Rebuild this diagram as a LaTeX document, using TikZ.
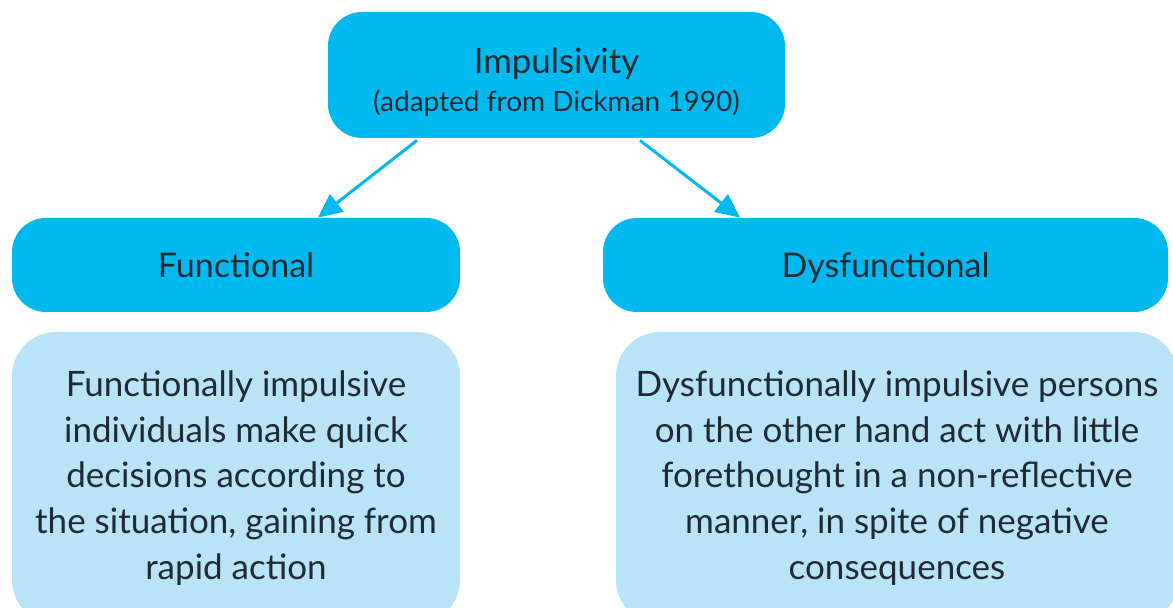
\documentclass[tikz,border=0pt]{standalone}
\usepackage{fontspec}
\setmainfont{Lato}
\usetikzlibrary{arrows.meta}

\definecolor{headblue}{HTML}{00B9EE}
\definecolor{paleblue}{HTML}{B9E4F8}
\definecolor{inkgrey}{HTML}{1E2B35}

\newcommand{\lowered}[1]{\raisebox{-3.5pt}[\height][\depth]{#1}}

\begin{document}
\begin{tikzpicture}[
      x=0.5pt, y=-0.5pt,
      box/.style={rectangle, rounded corners=17pt, inner sep=0pt,
        text=inkgrey, align=center},
      head/.style={box, fill=headblue, minimum height=47pt},
      kind/.style={head, font=\fontsize{17}{20}\selectfont,
        text height=13pt, text depth=0pt},
      detail/.style={box, fill=paleblue, rounded corners=22pt,
        font=\fontsize{17.5}{22.9}\selectfont},
      link/.style={draw=headblue, line width=1.5pt,
        -{Triangle[length=12pt, width=11pt]}},
  ]
    \useasboundingbox (0,0) rectangle (1173,608);

    \node[head, minimum width=228.5pt, minimum height=63pt] (root) at (556.5,75)
      {\lowered{\fontsize{17.4}{19}\selectfont Impulsivity}\\[4pt]
       \lowered{\fontsize{14}{16}\selectfont (adapted from Dickman 1990)}};

    \node[kind, minimum width=224pt] (func) at (236,265) {Functional};
    \node[kind, minimum width=282.5pt] (dysf) at (885.5,265) {Dysfunctional};

    \node[detail, minimum width=224pt, minimum height=146pt] (funcdesc) at (236,478)
      {Functionally impulsive\\ individuals make quick\\ decisions according to\\
       the situation, gaining from\\ rapid action};
    \node[detail, minimum width=281pt, minimum height=146pt] (dysfdesc) at (897,478)
      {Dysfunctionally impulsive persons\\ on the other hand act with little\\
       forethought in a non-reflective\\ manner, in spite of negative\\ consequences};

    % arrows from the root to both kinds
    \draw[link] ([xshift=-69.75pt, yshift=-1pt]root.south) -- ([xshift=41pt]func.north);
    \draw[link] ([xshift=41.75pt, yshift=-1pt]root.south) -- ([xshift=-72.75pt]dysf.north);
  \end{tikzpicture}
\end{document}
